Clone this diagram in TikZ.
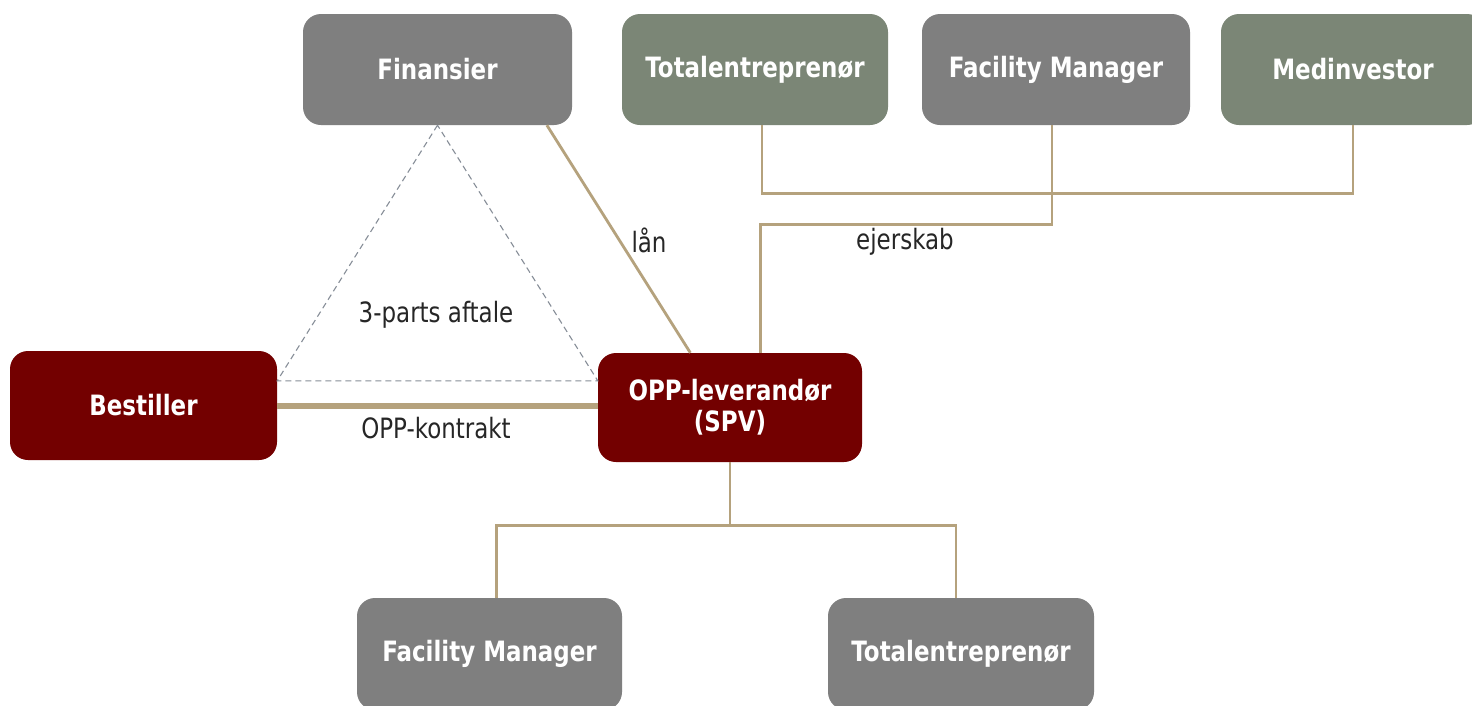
\documentclass[tikz,border=0pt]{standalone}
\usepackage{fontspec}
\setmainfont{DejaVu Sans}[FakeStretch=0.82]
\usetikzlibrary{calc}
\definecolor{boxgray}{HTML}{7F7F7F}
\definecolor{boxgreen}{HTML}{7B8676}
\definecolor{darkred}{HTML}{730000}
\definecolor{tanline}{HTML}{B5A27D}
\definecolor{dashgray}{HTML}{878E98}
\definecolor{labtext}{HTML}{262626}
\tikzset{
  box/.style={rectangle, rounded corners=18pt, text=white, inner sep=0pt, align=center,
    font=\fontsize{28}{31}\selectfont\bfseries, minimum height=111pt},
  graybox/.style={box, fill=boxgray},
  greenbox/.style={box, fill=boxgreen},
  redbox/.style={box, fill=darkred, minimum height=109pt},
  link/.style={draw=tanline, line width=2.8pt},
  contract/.style={draw=tanline, line width=6pt},
  threeparty/.style={draw=dashgray, line width=1.1pt, dash pattern=on 6pt off 4pt},
  lbl/.style={text=labtext, font=\fontsize{28}{31}\selectfont, inner sep=0pt}
}
\begin{document}
\begin{tikzpicture}[x=1pt,y=-1pt]
\clip (0,0) rectangle (1472,705);
\fill[white] (0,0) rectangle (1472,705);
% top row
\node[graybox, minimum width=269pt] (fin) at (437.5,69.5) {Finansier};
\node[greenbox, minimum width=266pt] (tot1) at (755,69.5) {Totalentreprenør};
\node[graybox, minimum width=268pt] (fm1) at (1056,69.5) {Facility Manager};
\node[greenbox, minimum width=264pt] (med) at (1353,69.5) {Medinvestor};
% middle row
\node[redbox, minimum width=267pt] (best) at (143.5,405.5) {Bestiller};
\node[redbox, minimum width=264pt] (opp) at (730,407.5) {OPP-leverandør\\(SPV)};
% bottom row
\node[graybox, minimum width=265pt, minimum height=112pt] (fm2) at (489.5,654) {Facility Manager};
\node[graybox, minimum width=266pt, minimum height=112pt] (tot2) at (961,654) {Totalentreprenør};
% three-party agreement
\coordinate (tl) at ($(best.north east)+(0,30)$);
\coordinate (tr) at ($(opp.north west)+(0,28)$);
\draw[threeparty] (fin.south) -- (tl) -- (tr) -- cycle;
% contract
\draw[contract] (best.east) -- (best.east -| opp.west);
% loan
\draw[link] ($(fin.south west)!0.906!(fin.south east)$) -- ($(opp.north west)!0.35!(opp.north east)$);
% co-owners
\draw[link] ($(tot1.south)+(7,0)$) -- ++(0,68) -| (med.south);
\draw[link] ($(fm1.south)+(-4,0)$) -- ++(0,99) -| ($(opp.north west)!0.615!(opp.north east)$);
% subcontractors
\coordinate (bj) at ($(opp.south)+(0,63)$);
\draw[link] (opp.south) -- (bj);
\draw[link] ($(fm2.north)+(7,0)$) |- (bj) -| ($(tot2.north)+(-5,0)$);
% labels
\node[lbl] (lan) at (649,240) {lån};
\node[lbl] (ejer) at (905,242) {ejerskab};
\node[lbl] (tpa) at (436,315) {3-parts aftale};
\node[lbl] (oppk) at (436,428) {OPP-kontrakt};
\end{tikzpicture}
\end{document}
